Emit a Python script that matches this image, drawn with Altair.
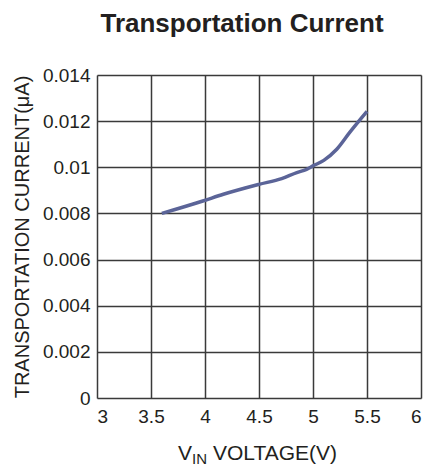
import altair as alt
import pandas as pd

vin = [3.6, 3.98, 4.17, 4.5, 4.71, 4.85, 4.94, 5.0, 5.1, 5.22, 5.34, 5.5]
current = [0.0080, 0.00854, 0.00883, 0.00926, 0.00951, 0.00977, 0.00991, 0.01006, 0.0103, 0.01078, 0.01151, 0.01242]
x_ticks = [3, 3.5, 4, 4.5, 5, 5.5, 6]
y_ticks = [0, 0.002, 0.004, 0.006, 0.008, 0.01, 0.012, 0.014]

df = pd.DataFrame({"vin": vin, "current": current})

FONT = "Liberation Sans"
INK = "#231f20"

line = alt.Chart(df).mark_line(color="#5b6498", strokeWidth=3.5, interpolate="monotone").encode(
    x=alt.X("vin:Q", scale=alt.Scale(domain=[3, 6], nice=False),
            axis=alt.Axis(values=x_ticks, title=None, grid=True, ticks=False, format="~g",
                          labelFontSize=19, labelPadding=9, labelColor=INK,
                          gridColor="#3a3a3a", gridWidth=1.5, domain=False)),
    y=alt.Y("current:Q", scale=alt.Scale(domain=[0, 0.014], nice=False),
            axis=alt.Axis(values=y_ticks, title="TRANSPORTATION CURRENT(μA)", format="~g",
                          titleFontSize=20, titleFontWeight="normal", titleColor=INK,
                          titlePadding=10, grid=True, ticks=False, labelFontSize=19,
                          labelPadding=7, labelColor=INK,
                          gridColor="#3a3a3a", gridWidth=1.5, domain=False,
                          labelFlush=False)),
)

t_v = alt.Chart(pd.DataFrame({"t": ["V"]})).mark_text(
    align="left", baseline="alphabetic", fontSize=21, font=FONT, color=INK
).encode(x=alt.value(81), y=alt.value(385), text="t:N")
t_in = alt.Chart(pd.DataFrame({"t": ["IN"]})).mark_text(
    align="left", baseline="alphabetic", fontSize=15, font=FONT, color=INK
).encode(x=alt.value(95), y=alt.value(389), text="t:N")
t_rest = alt.Chart(pd.DataFrame({"t": ["VOLTAGE(V)"]})).mark_text(
    align="left", baseline="alphabetic", fontSize=21, font=FONT, color=INK
).encode(x=alt.value(116), y=alt.value(385), text="t:N")

chart = alt.layer(line, t_v, t_in, t_rest).properties(
    width=324, height=323,
    title=alt.TitleParams("Transportation Current", fontSize=26, font=FONT,
                          fontWeight="bold", color=INK, offset=29, anchor="middle",
                          dx=-17),
    autosize=alt.AutoSizeParams(type="none"),
    padding={"left": 89, "top": 67, "right": 6, "bottom": 74},
).configure_view(stroke="#111111", strokeWidth=3).configure(font=FONT)

chart.save("out.html", embed_options={"renderer": "svg", "actions": False})
